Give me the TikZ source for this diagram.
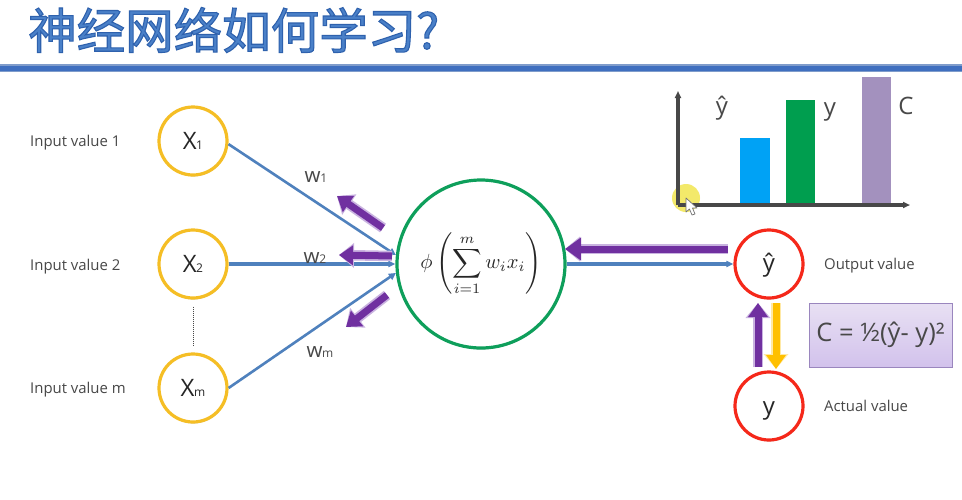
\documentclass[tikz,border=0pt]{standalone}
\usepackage{fontspec}
\usepackage{amsmath}
\setmainfont{Open Sans}
\newfontfamily\titlefont{Noto Sans CJK SC}
\usetikzlibrary{arrows.meta,shadows,calc}
\definecolor{linkblue}{HTML}{4F81BD}
\definecolor{ringyellow}{HTML}{F5BE25}
\definecolor{ringgreen}{HTML}{0E9F5B}
\definecolor{ringred}{HTML}{F5281A}
\definecolor{arrowpurple}{HTML}{7030A0}
\definecolor{arrowglow}{HTML}{C9B3E0}
\definecolor{arrowamber}{HTML}{FFC000}
\definecolor{inktext}{HTML}{484848}
\definecolor{barblue}{HTML}{00A2F5}
\definecolor{bargreen}{HTML}{009E4F}
\definecolor{barpurple}{HTML}{A391BE}
\definecolor{titleblue}{HTML}{4A80C8}
\definecolor{ruleblue}{HTML}{3F6FBF}
\definecolor{ruleedge}{HTML}{7F9CCB}
\definecolor{boxtop}{HTML}{E8E0F3}
\definecolor{boxbot}{HTML}{D2C2EC}
\definecolor{boxline}{HTML}{9A86BE}
\definecolor{markyellow}{HTML}{F3E96A}
\tikzset{
  ringbase/.style={circle,minimum size=68pt,inner sep=0pt,line width=3.2pt,fill=white,text=black!85,
    drop shadow={shadow xshift=0.4pt,shadow yshift=-1.4pt,opacity=.25,fill=black}},
  inputring/.style={ringbase,draw=ringyellow},
  outputring/.style={ringbase,draw=ringred},
  sumring/.style={ringbase,draw=ringgreen,minimum size=168pt},
  sidelabel/.style={anchor=base west,inner sep=0pt,text=inktext,font=\fontsize{14.9}{17}\selectfont},
  weightlabel/.style={anchor=center,inner sep=0pt,text=inktext},
  chartlabel/.style={anchor=center,inner sep=0pt,text=inktext,font=\fontsize{24}{28}\selectfont},
  link/.style={draw=linkblue,line width=2.6pt,-{Triangle[length=7pt,width=7pt]}},
  flatlink/.style={draw=linkblue,line width=3.2pt,-{Triangle[length=7pt,width=6pt]}},
  backarrow/.style={draw=arrowpurple,line width=7pt,-{Triangle[length=14pt,width=19pt]},
    preaction={draw=arrowglow,line width=10.5pt,-{Triangle[length=15pt,width=24pt]}}},
  amberarrow/.style={draw=arrowamber,line width=7pt,-{Triangle[length=14pt,width=19pt]},
    preaction={draw=arrowamber!35,line width=10.5pt,-{Triangle[length=15pt,width=24pt]}}},
  axisline/.style={draw=inktext,line width=3.2pt,-{Triangle[length=7pt,width=6pt]}},
}
\newcommand{\ringlabel}[2]{\fontsize{24}{28}\selectfont #1\kern-0.5pt\fontsize{12}{14}\selectfont #2}
\newcommand{\wlabel}[2]{\fontsize{20.5}{24}\selectfont #1\kern-0.3pt\fontsize{12}{14}\selectfont #2}
\begin{document}
\begin{tikzpicture}[x=1pt,y=-1pt]
\useasboundingbox (0,0) rectangle (962,499);
\fill[white] (0,0) rectangle (962,499);

% title and rule
\node[anchor=west,inner sep=0pt,text=titleblue] (title) at (28,30)
  {\titlefont\fontsize{48.5}{54}\selectfont\special{pdf:code 2 Tr 1.1 w 0.18 0.38 0.68 RG}神经网络如何学习?\special{pdf:code 0 Tr}};
\fill[ruleedge] (0,64) rectangle (962,72);
\fill[ruleblue] (0,66) rectangle (962,71);

% chart
\fill[barblue] (740,138) rectangle (770,205);
\fill[bargreen] (786,100) rectangle (815,205);
\fill[barpurple] (862,77) rectangle (891,205);
\coordinate (origin) at (678,205);
\coordinate (ytop) at (678,91);
\coordinate (xend) at (910,205);
\fill[markyellow] (686,198) circle (14);
\draw[axisline] (origin) -- (ytop);
\draw[axisline] (origin) -- (xend);
\fill[white,draw=black!55,line width=.7pt,line join=round]
  (686,198) -- (686,212) -- (689.5,209) -- (692,215) -- (695,214) -- (692.5,208) -- (697,208) -- cycle;
\node[chartlabel] (charthat) at (722,108) {ŷ};
\node[chartlabel] (charty) at (830,112) {y};
\node[chartlabel] (chartc) at (906,106) {C};

% input side
\node[sidelabel] (in1) at (30,146) {Input value 1};
\node[sidelabel] (in2) at (30,270) {Input value 2};
\node[sidelabel] (inm) at (30,393) {Input value m};
\node[inputring] (x1) at (193,141) {\ringlabel{X}{1}};
\node[inputring] (x2) at (193,264) {\ringlabel{X}{2}};
\node[inputring] (xm) at (193,388) {\ringlabel{X}{m}};
\draw[inktext,line width=1pt,dash pattern=on 1pt off 1pt,shorten >=7pt,shorten <=7pt] (x2) -- (xm);

% sum neuron
\node[sumring] (sum) at (481,264)
  {\scalebox{2.05}{$\displaystyle \phi\left(\sum_{i=1}^{m} w_i x_i\right)$}};

% output side
\node[outputring] (yhat) at (769,264) {\raisebox{-7pt}[0pt][0pt]{\fontsize{24}{28}\selectfont ŷ}};
\node[outputring] (yact) at (769,406) {\raisebox{-8.5pt}[0pt][0pt]{\fontsize{24}{28}\selectfont y}};
\node[sidelabel] (outlab) at (824,269.5) {Output value};
\node[sidelabel] (actlab) at (824,411.5) {Actual value};

% connectors
\draw[link] (x1.-5) -- (sum.174);
\draw[flatlink] (x2) -- (sum);
\draw[link] (xm.0) -- (sum.186);
\draw[flatlink] (sum) -- (yhat);

% weights
\node[weightlabel] (w1) at (316,177) {\wlabel{w}{1}};
\node[weightlabel] (w2) at (315,258) {\wlabel{w}{2}};
\node[weightlabel] (wm) at (320,352) {\wlabel{w}{m}};

% backward arrows
\coordinate (a1s) at (383,228); \coordinate (a1e) at (337,196);
\coordinate (a2s) at (392,256); \coordinate (a2e) at (339,255);
\coordinate (a3s) at (387,295); \coordinate (a3e) at (346,327);
\coordinate (bs) at (728,249); \coordinate (be) at (565,249);
\draw[backarrow] (a1s) -- (a1e);
\draw[backarrow] (a2s) -- (a2e);
\draw[backarrow] (a3s) -- (a3e);
\draw[backarrow,-{Triangle[length=16pt,width=22pt]}] (bs) -- (be);

% error arrows
\coordinate (ups) at (758,367); \coordinate (upe) at (758,303);
\coordinate (dns) at (776,303); \coordinate (dne) at (776,369);
\draw[backarrow] (ups) -- (upe);
\draw[amberarrow] (dns) -- (dne);

% cost box
\node[draw=boxline,line width=1pt,top color=boxtop,bottom color=boxbot,minimum width=143pt,minimum height=64pt,
  inner sep=0pt,text=inktext,drop shadow={shadow xshift=0.5pt,shadow yshift=-1.2pt,opacity=.25,fill=black}]
  (cost) at (880.5,335) {\fontsize{25.5}{30}\selectfont C = ½(ŷ- y)²};
\end{tikzpicture}
\end{document}
